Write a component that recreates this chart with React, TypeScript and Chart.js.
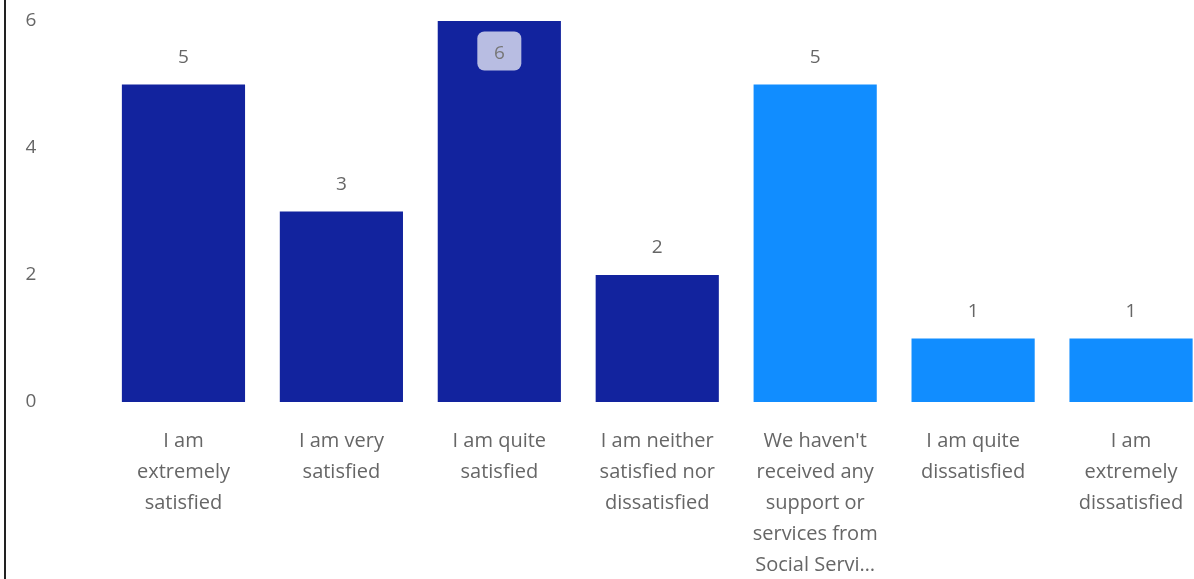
import React, { useEffect, useRef } from "react";
import { Chart, registerables } from "chart.js";

Chart.register(...registerables);

const categories: string[][] = [
  ["I am", "extremely", "satisfied"],
  ["I am very", "satisfied"],
  ["I am quite", "satisfied"],
  ["I am neither", "satisfied nor", "dissatisfied"],
  ["We haven't", "received any", "support or", "services from", "Social Servi…"],
  ["I am quite", "dissatisfied"],
  ["I am", "extremely", "dissatisfied"],
];

const values: number[] = [5, 3, 6, 2, 5, 1, 1];

const barColors: string[] = [
  "#12239E",
  "#12239E",
  "#12239E",
  "#12239E",
  "#118DFF",
  "#118DFF",
  "#118DFF",
];

const yMin = 0;
const yMax = 6;
const yStep = 2;

const FONT = "'Open Sans', 'Noto Sans', sans-serif";
const LABEL_COLOR = "#666666";

const valueLabels = {
  id: "valueLabels",
  afterDatasetsDraw(chart: any) {
    const ctx = chart.ctx as CanvasRenderingContext2D;
    const meta = chart.getDatasetMeta(0);
    ctx.save();
    ctx.font = `19px ${FONT}`;
    ctx.textAlign = "center";
    ctx.textBaseline = "middle";
    meta.data.forEach((bar: any, i: number) => {
      const text = String(values[i]);
      const outsideY = bar.y - 27;
      if (outsideY - 12 < 0) {
        const bw = 44;
        const bh = 39;
        const cy = bar.y + 30;
        ctx.fillStyle = "rgba(255,255,255,0.7)";
        ctx.beginPath();
        (ctx as any).roundRect(bar.x - bw / 2, cy - bh / 2, bw, bh, 7);
        ctx.fill();
        ctx.fillStyle = "#777777";
        ctx.fillText(text, bar.x, cy + 3);
      } else {
        ctx.fillStyle = LABEL_COLOR;
        ctx.fillText(text, bar.x, outsideY);
      }
    });
    ctx.restore();
  },
};

export default function App() {
  const canvasRef = useRef<HTMLCanvasElement | null>(null);

  useEffect(() => {
    const canvas = canvasRef.current;
    if (!canvas) return;
    const chart = new Chart(canvas, {
      type: "bar",
      data: {
        labels: categories,
        datasets: [
          {
            data: values,
            backgroundColor: barColors,
            borderWidth: 0,
            categoryPercentage: 0.78,
            barPercentage: 1,
          },
        ],
      },
      options: {
        responsive: false,
        animation: false,
        devicePixelRatio: 1,
        layout: { padding: { left: 19.5, top: 21, right: 0, bottom: 0 } },
        plugins: {
          legend: { display: false },
          tooltip: { enabled: false },
        },
        scales: {
          x: {
            grid: { display: false, drawTicks: false },
            border: { display: false },
            ticks: {
              color: LABEL_COLOR,
              font: { family: FONT, size: 20, lineHeight: "31px" as any },
              padding: 23.5,
              maxRotation: 0,
              minRotation: 0,
              autoSkip: false,
            },
          },
          y: {
            min: yMin,
            max: yMax,
            grid: { display: false, drawTicks: false },
            border: { display: false },
            afterFit(scale: any) {
              scale.width = 79;
            },
            ticks: {
              stepSize: yStep,
              color: LABEL_COLOR,
              crossAlign: "far",
              padding: 0,
              font: { family: FONT, size: 19 },
            },
          },
        },
      },
      plugins: [valueLabels],
    });
    return () => chart.destroy();
  }, []);

  return (
    <div
      style={{
        position: "fixed",
        left: 0,
        top: 0,
        width: 1194,
        height: 579,
        overflow: "hidden",
        background: "#ffffff",
      }}
    >
      <div
        style={{
          position: "absolute",
          left: 4,
          top: 0,
          width: 2,
          height: 579,
          background: "#222222",
        }}
      />
      <canvas
        ref={canvasRef}
        width={1204}
        height={604}
        style={{ position: "absolute", left: 6, top: 0, width: 1204, height: 604 }}
      />
    </div>
  );
}
